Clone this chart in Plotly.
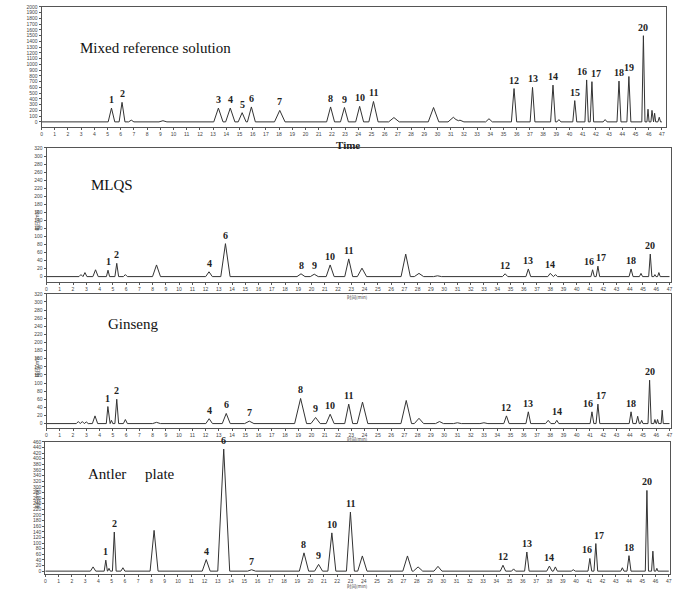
import plotly.graph_objects as go

# ---------------- data ----------------
# Mixed reference solution
mix_times = [5.3, 6.1, 6.8, 9.2, 13.4, 14.3, 15.2, 15.9, 18.05, 21.9, 22.95, 24.1, 25.15, 26.7,
             29.7, 31.2, 31.7, 33.9, 35.8, 37.2, 38.75, 39.2, 40.4, 41.3, 41.7, 42.7, 43.75,
             44.5, 45.6, 45.95, 46.25, 46.45, 46.8]
mix_heights = [240, 340, 30, 20, 240, 240, 160, 260, 200, 260, 250, 270, 355, 75,
               250, 80, 30, 55, 580, 600, 640, 40, 370, 730, 700, 40, 710,
               790, 1500, 220, 200, 150, 80]
mix_widths = [0.25, 0.22, 0.2, 0.3, 0.35, 0.35, 0.3, 0.3, 0.4, 0.3, 0.3, 0.3, 0.35, 0.4,
              0.4, 0.4, 0.3, 0.25, 0.2, 0.18, 0.18, 0.15, 0.15, 0.13, 0.13, 0.15, 0.15,
              0.15, 0.12, 0.08, 0.08, 0.08, 0.1]
mix_labels = ["1", "2", "", "", "3", "4", "5", "6", "7", "8", "9", "10", "11", "",
              "", "", "", "", "12", "13", "14", "", "15", "16", "17", "", "18",
              "19", "20", "", "", "", ""]

# MLQS
mlqs_times = [2.6, 2.9, 3.7, 4.64, 5.3, 5.95, 8.3, 12.26, 13.5, 19.2, 20.2, 21.4, 22.8, 23.8,
              27.1, 28.1, 29.5, 34.6, 36.35, 38.0, 38.4, 41.2, 41.6, 44.1, 44.85, 45.55, 45.9, 46.2]
mlqs_heights = [5, 10, 17, 16, 33, 5, 29, 12, 82, 7, 6, 29, 44, 21,
                56, 8, 2, 7, 19, 8, 5, 17, 26, 19, 8, 56, 5, 10]
mlqs_widths = [0.15, 0.15, 0.2, 0.12, 0.14, 0.15, 0.3, 0.25, 0.35, 0.3, 0.3, 0.3, 0.3, 0.35,
               0.35, 0.35, 0.3, 0.2, 0.18, 0.18, 0.15, 0.13, 0.13, 0.15, 0.12, 0.12, 0.08, 0.1]
mlqs_labels = ["", "", "", "1", "2", "", "", "4", "6", "8", "9", "10", "11", "",
               "", "", "", "12", "13", "14", "", "16", "17", "18", "", "20", "", ""]

# Ginseng
gin_times = [2.4, 2.7, 3.0, 3.66, 4.63, 4.9, 5.3, 5.95, 8.3, 12.27, 13.56, 15.3, 19.17, 20.3,
             21.4, 22.8, 23.84, 27.14, 28.1, 29.65, 31.0, 33.0, 34.7, 36.35, 37.85, 38.5,
             41.15, 41.6, 44.1, 44.6, 44.9, 45.5, 45.9, 46.1, 46.45]
gin_heights = [5, 5, 4, 19, 42, 8, 60, 10, 3, 12, 25, 6, 62, 15,
               23, 48, 53, 57, 13, 5, 2, 2, 19, 29, 8, 8,
               29, 48, 29, 18, 8, 107, 10, 10, 33]
gin_widths = [0.15, 0.15, 0.15, 0.2, 0.12, 0.1, 0.14, 0.15, 0.3, 0.25, 0.3, 0.35, 0.45, 0.35,
              0.3, 0.3, 0.4, 0.4, 0.35, 0.3, 0.3, 0.3, 0.2, 0.18, 0.2, 0.15,
              0.14, 0.14, 0.14, 0.12, 0.1, 0.12, 0.08, 0.08, 0.08]
gin_labels = ["", "", "", "", "1", "", "2", "", "", "4", "6", "7", "8", "9",
              "10", "11", "", "", "", "", "", "", "12", "13", "", "14",
              "16", "17", "18", "", "", "20", "", "", ""]

# Antler plate
ant_times = [3.6, 4.56, 4.8, 5.2, 5.85, 8.2, 12.13, 13.45, 15.55, 19.5, 20.6, 21.6, 23.0, 23.9,
             27.3, 28.1, 29.6, 34.5, 35.3, 36.3, 38.0, 38.45, 39.8, 41.05, 41.5, 43.5, 44.0,
             45.35, 45.8, 46.1]
ant_heights = [15, 39, 10, 139, 12, 145, 41, 434, 5, 65, 24, 136, 210, 54,
               54, 15, 17, 21, 8, 68, 18, 15, 5, 45, 98, 12, 55,
               287, 71, 10]
ant_widths = [0.2, 0.12, 0.1, 0.14, 0.15, 0.3, 0.3, 0.45, 0.3, 0.35, 0.3, 0.3, 0.3, 0.35,
              0.35, 0.35, 0.3, 0.2, 0.15, 0.17, 0.2, 0.15, 0.15, 0.14, 0.14, 0.12, 0.15,
              0.12, 0.1, 0.08]
ant_labels = ["", "1", "", "2", "", "", "4", "6", "7", "8", "9", "10", "11", "",
              "", "", "", "12", "", "13", "14", "", "", "16", "17", "", "18",
              "20", "", ""]

panel_names = ["Mixed reference solution", "MLQS", "Ginseng",
               "Antler\u00a0\u00a0\u00a0\u00a0\u00a0plate"]
x_max = 47
y_tops = [2000, 320, 320, 460]
y_steps = [100, 20, 20, 20]

panels = [
    (mix_times, mix_heights, mix_widths, mix_labels),
    (mlqs_times, mlqs_heights, mlqs_widths, mlqs_labels),
    (gin_times, gin_heights, gin_widths, gin_labels),
    (ant_times, ant_heights, ant_widths, ant_labels),
]

# ---------------- layout geometry (window pixels) ----------------
W, H = 700, 596


def px(x):
    return x / W


def py(y):
    return 1 - y / H


geo = [  # x_left, x_right, y_top, y_bottom, x_range_max, y_range_min
    (40.7, 667.7, 4.0, 124.5, 47.3, -87),
    (45.7, 672.7, 145.7, 280.0, 47.1, -12.4),
    (45.7, 672.7, 292.3, 426.7, 47.1, -9.8),
    (44.5, 672.0, 441.0, 574.0, 47.1, -10.6),
]
label_xshift = {(0, "16"): -5, (0, "17"): 4, (1, "16"): -4, (1, "17"): 3,
                (2, "16"): -4, (2, "17"): 3, (3, "16"): -3, (3, "17"): 3}
title_pos = [(77, 45), (88, 183), (105, 323), (85, 473)]
ytitle_y = [None, 218, 365, 510]

SERIF = "Liberation Serif, Times New Roman, serif"
fig = go.Figure()
annotations = []


def chrom_xy(times, heights, widths):
    pts = {0.0, float(x_max)}
    for t, w in zip(times, widths):
        pts.update([t - w, t, t + w])
    xs = sorted(p for p in pts if 0 <= p <= x_max)
    ys = []
    for x in xs:
        s = 0.0
        for t, h, w in zip(times, heights, widths):
            d = abs(x - t)
            if d < w:
                s += h * (1 - d / w)
        ys.append(s)
    return xs, ys


for i, (times, heights, widths, labels) in enumerate(panels):
    xl, xr, yt, yb, xmaxr, ymin = geo[i]
    n = "" if i == 0 else str(i + 1)
    xs, ys = chrom_xy(times, heights, widths)
    fig.add_trace(go.Scatter(x=xs, y=ys, mode="lines",
                             line=dict(color="#333333", width=1),
                             xaxis="x" + n, yaxis="y" + n,
                             showlegend=False, hoverinfo="skip"))
    axis_common = dict(showgrid=False, zeroline=False, mirror=True, showline=True,
                       linecolor="#555555", linewidth=1, ticks="outside",
                       ticklen=2, tickwidth=0.6, tickcolor="#555555",
                       tickfont=dict(size=5, color="#444444", family="Arial"))
    fig.update_layout(**{
        "xaxis" + n: dict(domain=[px(xl), px(xr)], anchor="y" + n,
                          range=[0, xmaxr], dtick=1, tick0=0, **axis_common),
        "yaxis" + n: dict(domain=[py(yb), py(yt)], anchor="x" + n,
                          range=[ymin, y_tops[i]], dtick=y_steps[i], tick0=0,
                          **axis_common),
    })
    for t, h, lab in zip(times, heights, labels):
        if lab:
            annotations.append(dict(x=t, y=h, xref="x" + n, yref="y" + n,
                                    text="<b>%s</b>" % lab, showarrow=False,
                                    yanchor="bottom", yshift=1,
                                    xshift=label_xshift.get((i, lab), 0),
                                    font=dict(family=SERIF, size=10, color="#222222")))
    tx, ty = title_pos[i]
    annotations.append(dict(x=px(tx), y=py(ty), xref="paper", yref="paper",
                            xanchor="left", yanchor="middle", showarrow=False,
                            text=panel_names[i],
                            font=dict(family=SERIF, size=15, color="#111111")))
    if i > 0:
        annotations.append(dict(x=px(358), y=py(yb + 16), xref="paper", yref="paper",
                                showarrow=False, text="时间(min)",
                                borderpad=0, borderwidth=0,
                                font=dict(size=4.5, color="#444444",
                                          family="Noto Sans CJK SC")))
        annotations.append(dict(x=px(30), y=py(ytitle_y[i]), xref="paper",
                                yref="paper", showarrow=False, text="电压(mV)",
                                textangle=-90,
                                font=dict(size=5, color="#444444",
                                          family="Noto Sans CJK SC")))

annotations.append(dict(x=px(348), y=py(135), xref="paper", yref="paper",
                        showarrow=False, text="<b>Time</b>",
                        font=dict(family=SERIF, size=11, color="#222222")))

fig.update_layout(width=W, height=H, margin=dict(l=0, r=0, t=0, b=0),
                  paper_bgcolor="white", plot_bgcolor="white",
                  annotations=annotations, showlegend=False)

fig.write_html("out.html", config={"displayModeBar": False},
               post_script="document.body.style.margin='0';"
                           "document.body.style.overflow='hidden';")
